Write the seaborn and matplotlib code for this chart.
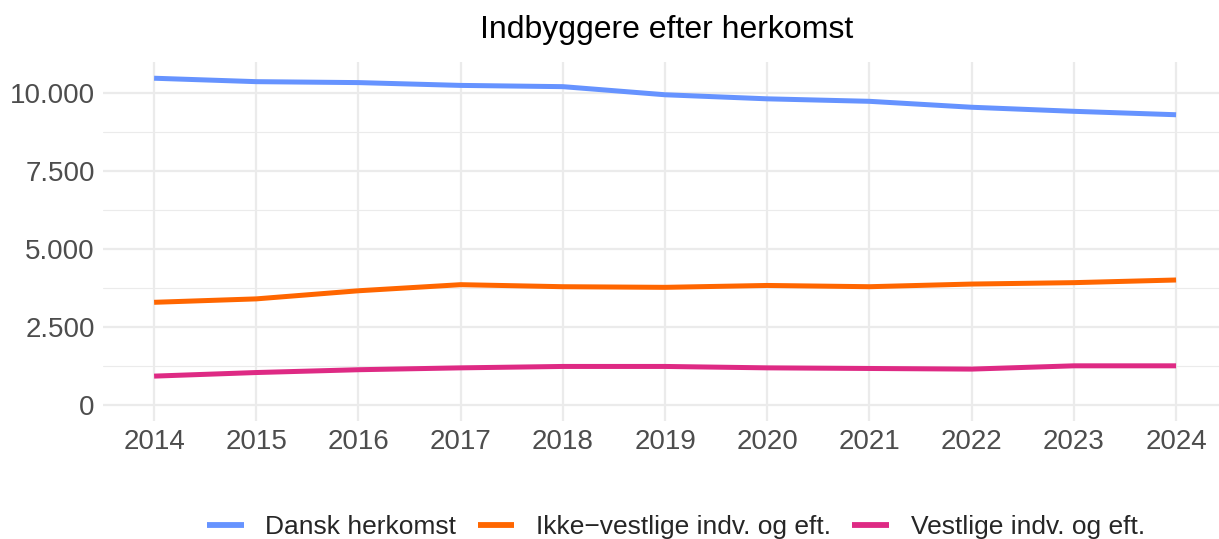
import pandas as pd
import numpy as np
import matplotlib
matplotlib.use('Agg')
import matplotlib.pyplot as plt
import matplotlib.ticker as ticker
import seaborn as sns

# data
years = [2014, 2015, 2016, 2017, 2018, 2019, 2020, 2021, 2022, 2023, 2024]
dansk = [10460, 10350, 10320, 10230, 10190, 9930, 9800, 9720, 9530, 9400, 9290]
ikke_vestlige = [3280, 3390, 3650, 3845, 3780, 3760, 3820, 3780, 3865, 3910, 3995]
vestlige = [915, 1030, 1120, 1180, 1225, 1225, 1180, 1160, 1140, 1245, 1245]

labels = ['Dansk herkomst', 'Ikke\u2212vestlige indv. og eft.', 'Vestlige indv. og eft.']
colors = ['#6693FF', '#FF6600', '#DE2A84']

df = pd.DataFrame({
    'aar': years * 3,
    'antal': dansk + ikke_vestlige + vestlige,
    'gruppe': [labels[0]] * len(years) + [labels[1]] * len(years) + [labels[2]] * len(years),
})

sns.set_theme(style='white')
plt.rcParams['font.family'] = ['Liberation Sans', 'DejaVu Sans']

fig = plt.figure(figsize=(12.19, 5.39), dpi=100)
ax = fig.add_axes([103 / 1219, 118 / 539, 1116 / 1219, 359 / 539])

sns.lineplot(data=df, x='aar', y='antal', hue='gruppe', hue_order=labels,
             palette=colors, linewidth=3.6, ax=ax, legend=False, solid_capstyle='butt')

# akser
ax.set_xlim(2013.5, 2024.42)
ax.set_ylim(-523, 10980)
ax.set_xticks(years)
ax.set_yticks([0, 2500, 5000, 7500, 10000])
ax.set_yticks([1250, 3750, 6250, 8750], minor=True)
ax.yaxis.set_major_formatter(ticker.FuncFormatter(lambda x, pos: '{:,.0f}'.format(x).replace(',', '.')))
ax.grid(True, which='major', color='#EBEBEB', linewidth=1.6)
ax.grid(True, which='minor', axis='y', color='#EBEBEB', linewidth=0.8)
ax.set_axisbelow(True)
for s in ax.spines.values():
    s.set_visible(False)
ax.tick_params(axis='both', which='both', length=0, labelsize=20, labelcolor='#4D4D4D', pad=6)
ax.set_xlabel('')
ax.set_ylabel('')

fig.text(667 / 1219, 1 - 30 / 539, 'Indbyggere efter herkomst', ha='center', va='center',
         fontsize=23, color='black')

handles = [plt.Line2D([], [], color=c, linewidth=4.2, solid_capstyle='butt') for c in colors]
fig.legend(handles, labels, loc='center', bbox_to_anchor=(676 / 1219, 1 - 527 / 539), ncol=3,
           frameon=False, fontsize=19, handlelength=1.4, handletextpad=0.83, columnspacing=0.8,
           borderaxespad=0, borderpad=0)

plt.savefig('out.png', dpi=100)
